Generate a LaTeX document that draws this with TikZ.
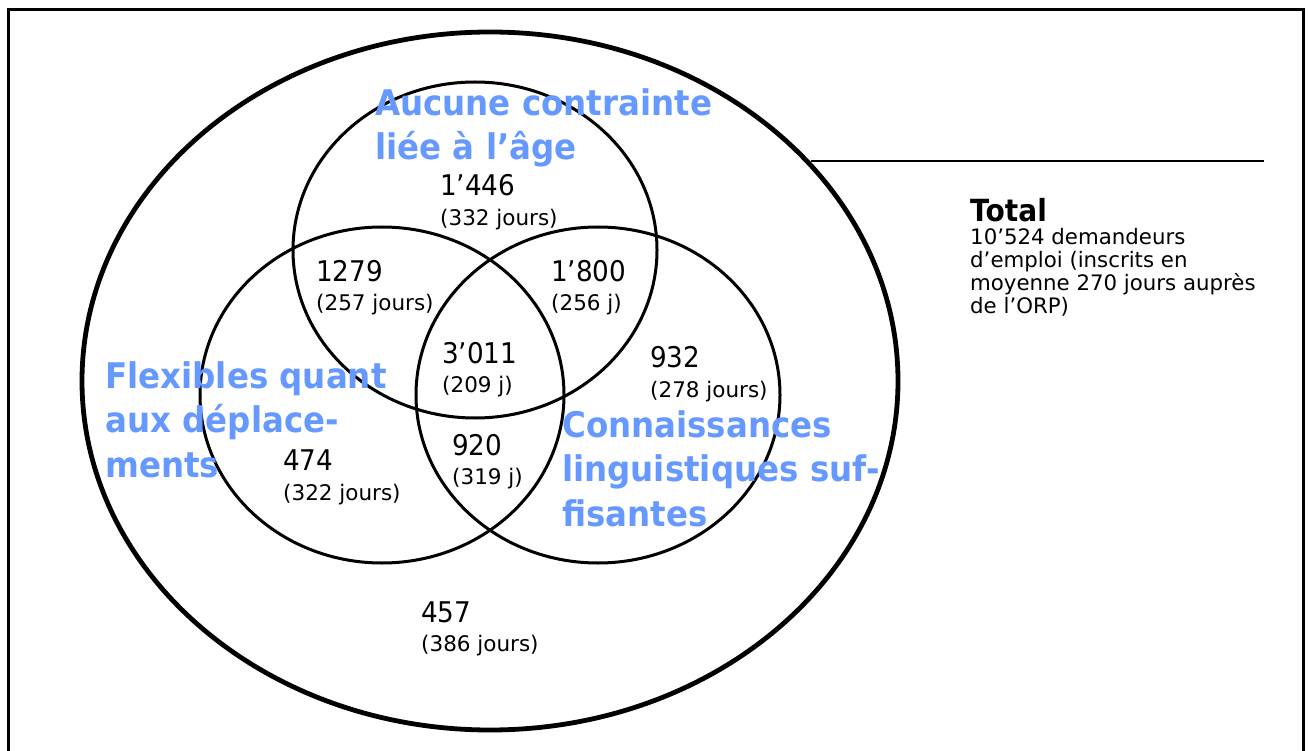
\documentclass[tikz,border=0pt]{standalone}
\usepackage{fontspec}
\setmainfont{DejaVu Sans}[FakeStretch=0.92]
\newfontfamily\descfont{DejaVu Sans}
\definecolor{lblblue}{RGB}{102,153,255}
\tikzset{
  setlabel/.style={anchor=base west, inner sep=0pt, align=left, text=lblblue,
    font=\fontsize{35.3}{44.5}\selectfont\bfseries},
  numtxt/.style={anchor=base west, inner sep=0pt, font=\fontsize{28.5}{30}\selectfont},
  daytxt/.style={anchor=base west, inner sep=0pt, font=\descfont\fontsize{21.5}{23}\selectfont},
  setcircle/.style={line width=3pt},
}
\begin{document}
\begin{tikzpicture}[x=1pt,y=-1pt]
\useasboundingbox (0,0) rectangle (1309,751);
\clip (0,0) rectangle (1309,751);
\draw[line width=2.4pt] (8.5,9.5) rectangle (1303.5,790);
% outer ellipse
\draw[line width=4.8pt] (490,381) ellipse [x radius=408, y radius=349];
% three sets
\draw[setcircle] (475,250) ellipse [x radius=182, y radius=168];
\draw[setcircle] (382,395) ellipse [x radius=182, y radius=168];
\draw[setcircle] (598,395) ellipse [x radius=182, y radius=168];
% total line
\coordinate (la) at (811,161);
\coordinate (lb) at (1264,161);
\draw[line width=1.8pt] (la) -- (lb);
% labels (anchor = baseline of last line)
\node[setlabel] (lage) at (375,160) {Aucune contrainte\\liée à l’âge};
\node[setlabel] (lflex) at (105,477) {Flexibles quant\\aux déplace-\\ments};
\node[setlabel] (lling) at (562,526) {Connaissances\\linguistiques suf-\\fisantes};
% numbers
\node[numtxt] (a1) at (440,196) {1’446};
\node[daytxt] (a2) at (440,226) {(332 jours)};
\node[numtxt] (b1) at (316,282) {1279};
\node[daytxt] (b2) at (316,311) {(257 jours)};
\node[numtxt] (c1) at (551,282) {1’800};
\node[daytxt] (c2) at (551,311) {(256 j)};
\node[numtxt] (d1) at (442,363) {3’011};
\node[daytxt] (d2) at (442,392) {(209 j)};
\node[numtxt] (e1) at (650,367) {932};
\node[daytxt] (e2) at (650,397) {(278 jours)};
\node[numtxt] (f1) at (452,455) {920};
\node[daytxt] (f2) at (452,484) {(319 j)};
\node[numtxt] (g1) at (283,470) {474};
\node[daytxt] (g2) at (283,500) {(322 jours)};
\node[numtxt] (h1) at (421,622) {457};
\node[daytxt] (h2) at (421,651) {(386 jours)};
% total
\node[anchor=base west, inner sep=0pt, font=\fontsize{30.5}{32}\selectfont\bfseries] (tot) at (970,222) {Total};
\node[anchor=base west, inner sep=0pt, align=left, font=\descfont\fontsize{21.3}{23}\selectfont] (totd) at (970,313)
  {10’524 demandeurs\\d’emploi (inscrits en\\moyenne 270 jours auprès\\de l’ORP)};
\end{tikzpicture}
\end{document}
